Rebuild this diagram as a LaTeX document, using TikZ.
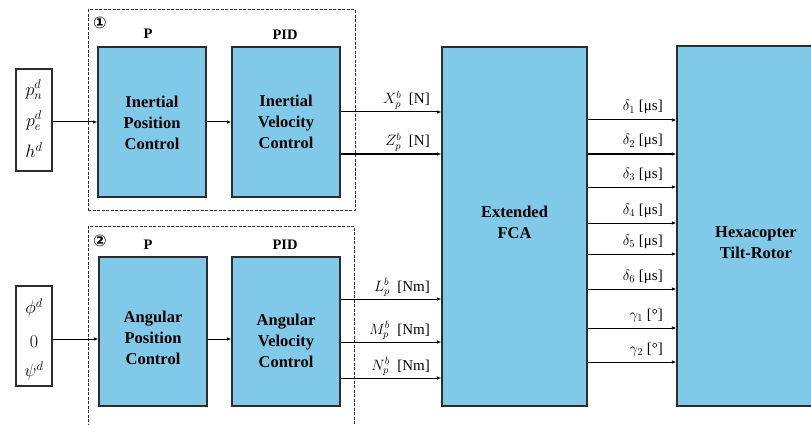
\RequirePackage{fix-cm}
\documentclass[tikz,border=0pt]{standalone}
\usepackage{fontspec}
\setmainfont{Liberation Serif}
\newfontfamily\symfont{DejaVu Sans}
\usetikzlibrary{arrows.meta}
\definecolor{blockblue}{RGB}{128,201,233}
\definecolor{edgegray}{RGB}{45,45,45}
\begin{document}
\begin{tikzpicture}[x=1pt,y=-1pt,
  blk/.style={draw=edgegray, line width=1.2pt, fill=blockblue, inner sep=0pt},
  inbox/.style={draw=edgegray, line width=1.2pt, fill=white, inner sep=0pt, minimum width=36pt},
  grp/.style={draw=edgegray, line width=1pt, dash pattern=on 3pt off 1.5pt},
  arr/.style={-{Latex[length=4.5pt,width=3.5pt]}, line width=1pt, draw=black},
  btxt/.style={font=\fontsize{16.5}{21}\selectfont\bfseries, align=center, inner sep=0pt},
  hdr/.style={font=\fontsize{14.5}{17}\selectfont\bfseries, inner sep=0pt},
  sig/.style={font=\fontsize{15}{16}\selectfont, anchor=base east, inner sep=0pt},
  mth/.style={font=\fontsize{18}{20}\selectfont, inner sep=0pt},
  circnum/.style={font=\symfont\bfseries\fontsize{16}{16}\selectfont, inner sep=0pt}]
\clip (0,0) rectangle (811,425);

% dashed controller groups
\node[grp, minimum width=267pt, minimum height=200pt] (g1) at (221.5,110) {};
\node[grp, minimum width=266pt, minimum height=220pt] (g2) at (221,336) {};
\node[circnum] (n1) at (100,23) {①};
\node[circnum] (n2) at (100,241) {②};

% controller headers
\node[hdr] (h1) at (148,34) {P};
\node[hdr] (h2) at (285,35) {PID};
\node[hdr] (h3) at (148,245) {P};
\node[hdr] (h4) at (285,245) {PID};

% inertial loop
\node[inbox, minimum height=102pt] (in1) at (34,120) {};
\node[mth] (in1a) at (34,90) {$p_n^d$};
\node[mth] (in1b) at (34,121) {$p_e^d$};
\node[mth] (in1c) at (34,150) {$h^d$};
\node[blk, minimum width=108pt, minimum height=150pt] (p1) at (152,122) {};
\node[btxt] (p1t) at (152,123) {Inertial\\Position\\Control};
\node[blk, minimum width=108pt, minimum height=150pt] (v1) at (286,122) {};
\node[btxt] (v1t) at (286,122) {Inertial\\Velocity\\Control};

% angular loop
\node[inbox, minimum height=100pt] (in2) at (34,336) {};
\node[mth] (in2a) at (34,308) {$\phi^d$};
\node[mth] (in2b) at (34,342) {$0$};
\node[mth] (in2c) at (34,371) {$\psi^d$};
\node[blk, minimum width=108pt, minimum height=149pt] (p2) at (153,331.5) {};
\node[btxt] (p2t) at (153,338) {Angular\\Position\\Control};
\node[blk, minimum width=108pt, minimum height=149pt] (v2) at (286,331.5) {};
\node[btxt] (v2t) at (286,341) {Angular\\Velocity\\Control};

% allocation and plant
\node[blk, minimum width=145pt, minimum height=359pt] (fca) at (514.5,226.5) {};
\node[btxt] (fcat) at (514.5,222) {Extended\\FCA};
\node[blk, minimum width=158pt, minimum height=360pt] (hex) at (756,226) {};
\node[btxt] (hext) at (756,243) {Hexacopter\\Tilt-Rotor};

% loop connections
\draw[arr] (in1.east |- p1.west) -- (p1.west);
\draw[arr] (p1.east) -- (v1.west);
\draw[arr] (in2.east |- 0,339) -- (p2.west |- 0,339);
\draw[arr] (p2.east |- 0,339) -- (v2.west |- 0,339);

% force and moment commands
\foreach \yy/\txt [count=\i] in {112/{$X_p^b$\ \ [N]}, 154/{$Z_p^b$\ \ [N]},
    299/{$L_p^b$\ \ [Nm]}, 342/{$M_p^b$\ \ [Nm]}, 378/{$N_p^b$\ \ [Nm]}} {
  \ifnum\i<3
    \draw[arr] (v1.east |- 0,\yy) -- (fca.west |- 0,\yy);
  \else
    \draw[arr] (v2.east |- 0,\yy) -- (fca.west |- 0,\yy);
  \fi
  \node[sig] (fm\i) at (430,\yy-8) {\txt};
}

% actuator commands
\foreach \yy/\txt [count=\i] in {120/{$\delta_1$ [μs]}, 154/{$\delta_2$ [μs]},
    187/{$\delta_3$ [μs]}, 223/{$\delta_4$ [μs]}, 254/{$\delta_5$ [μs]},
    289/{$\delta_6$ [μs]}, 328/{$\gamma_1$ [°]}, 362/{$\gamma_2$ [°]}} {
  \draw[arr] (fca.east |- 0,\yy) -- (hex.west |- 0,\yy);
  \node[sig] (ac\i) at (663,\yy-9) {\txt};
}
\end{tikzpicture}
\end{document}
